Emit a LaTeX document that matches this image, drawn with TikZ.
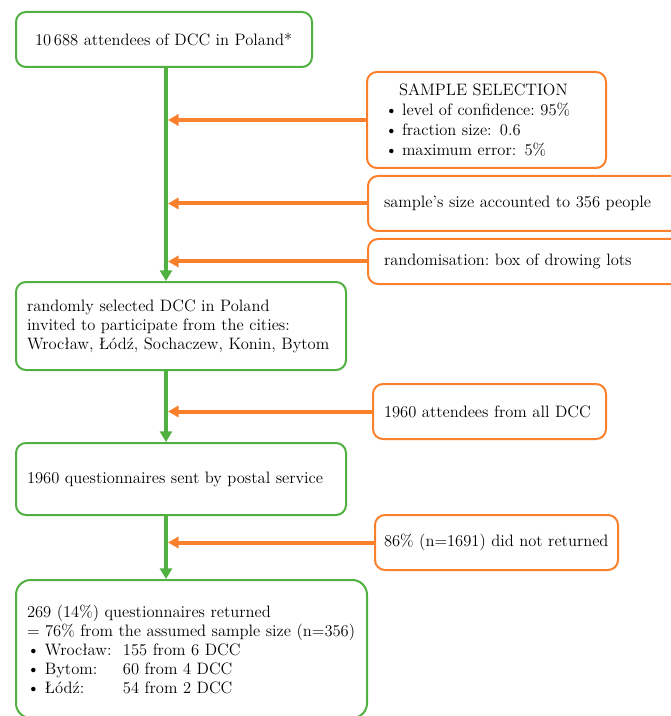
\documentclass[tikz,border=0pt]{standalone}
\usepackage{tikz}
\usetikzlibrary{arrows.meta,positioning,calc}
\usepackage{xcolor}
\definecolor{boxgreen}{RGB}{80,176,64}
\definecolor{boxorange}{RGB}{250,128,44}
\newcommand{\itm}{\makebox[12.75pt][l]{\textbullet}}

\begin{document}
\begin{tikzpicture}[x=0.75pt,y=-0.75pt,
    font=\fontsize{12.4}{14.25}\selectfont,
    gbox/.style={draw=boxgreen,line width=1.5pt,rounded corners=7.5pt,
      align=left,inner sep=0pt},
    obox/.style={draw=boxorange,line width=1.5pt,rounded corners=7.5pt,
      align=left,inner sep=0pt},
    garr/.style={draw=boxgreen,line width=3pt,-{Triangle[length=8pt,width=9pt]}},
    oarr/.style={draw=boxorange,line width=3pt,-{Triangle[length=8pt,width=8.5pt]}}]
        \useasboundingbox (0,0) rectangle (670,716);
        \coordinate (sp) at (166,0);
        % main column
        \node[gbox,minimum width=222pt,minimum height=41.25pt,text width=193.5pt]
          (top) at (164,39.5) {10\,688 attendees\ of DCC in Poland*};
        \node[gbox,minimum width=247.5pt,minimum height=66pt,text width=231pt]
          (sel) at (181,326) {randomly selected DCC in Poland\\
            invited to participate from the cities:\\
            \mbox{Wrocław, Łódź, Sochaczew, Konin, Bytom}};
        \node[gbox,minimum width=247.5pt,minimum height=54pt,text width=231pt]
          (sent) at (181,479) {1960 questionnaires\ sent by postal service};
        \node[gbox,rounded corners=11pt,minimum width=263.25pt,minimum height=103.5pt,
          text width=246.75pt] (ret) at (191.5,649)
          {269 (14\%) questionnaires\ returned\\
           \mbox{= 76\% from the assumed\ sample size (n=356)}\\
           \makebox[13.5pt][l]{\textbullet}\makebox[58.5pt][l]{Wrocław:}155 from 6 DCC\\
           \makebox[13.5pt][l]{\textbullet}\makebox[58.5pt][l]{Bytom:}60 from 4 DCC\\
           \makebox[13.5pt][l]{\textbullet}\makebox[58.5pt][l]{Łódź:}54 from 2 DCC};
        % side notes
        \node[obox,minimum width=179.25pt,minimum height=72pt,text width=152.25pt,
          font=\fontsize{12.4}{15}\selectfont] (ss) at (486.5,120)
          {\hspace*{10.5pt}SAMPLE SELECTION\\
           \itm level of confidence:\ 95\%\\
           \itm fraction size: 0.6\\
           \itm maximum error: 5\%};
        \node[obox,minimum width=240pt,minimum height=41.25pt,text width=216pt]
          (sz) at (528,203.5) {sample's\ size accounted to 356 people};
        \node[obox,minimum width=240pt,minimum height=33.75pt,text width=216pt]
          (rnd) at (528,261.5) {randomisation:\ box of drowing\ lots};
        \node[obox,minimum width=174.75pt,minimum height=41.25pt,text width=158.25pt]
          (att) at (489.5,411.5) {1960 attendees\ from all DCC};
        \node[obox,minimum width=182.25pt,minimum height=41.25pt,text width=168.75pt]
          (nret) at (496.5,542.5) {86\% (n=1691) did not returned};
        % connectors
        \foreach \a/\b in {top/sel,sel/sent,sent/ret} {
          \draw[garr] (\a.south -| sp) -- (\b.north -| sp);
        }
        \foreach \n in {ss,sz,rnd,att,nret} {
          \draw[oarr] (\n.west) -- ([xshift=1.5pt]\n.west -| sp);
        }
      \end{tikzpicture}
\end{document}
